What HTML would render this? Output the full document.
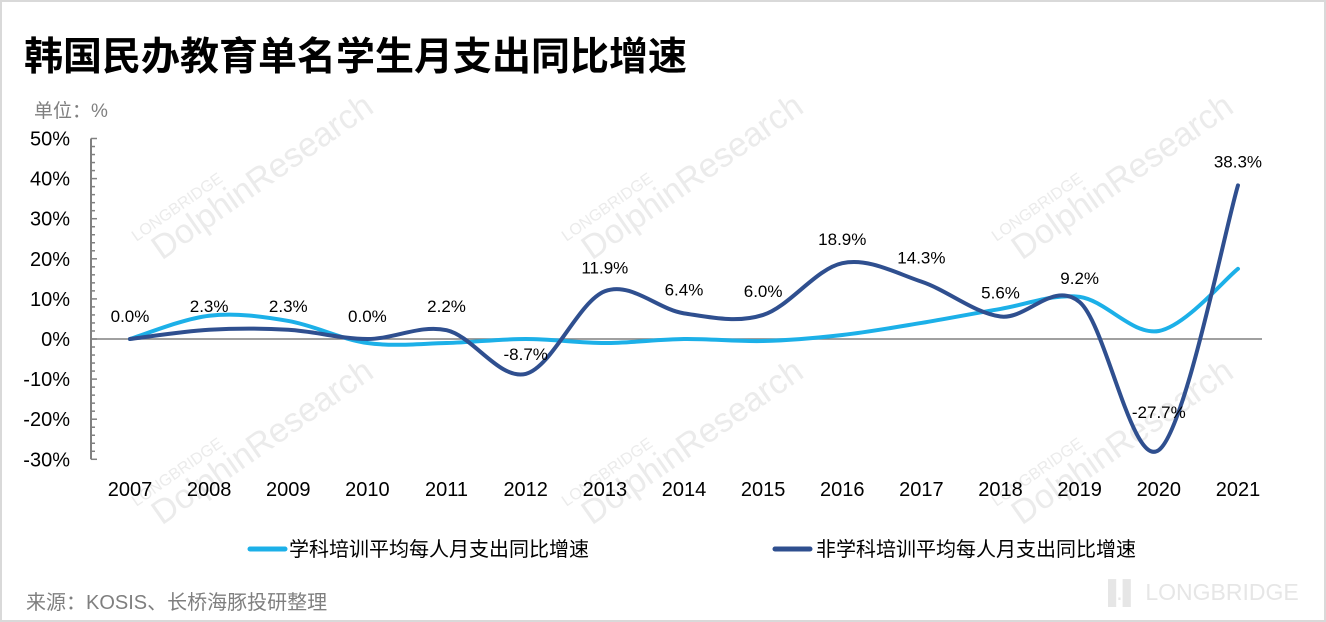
<!DOCTYPE html>
<html><head><meta charset="utf-8"><style>
body{margin:0;background:#fff}
#wrap{position:relative;width:1326px;height:622px;overflow:hidden;font-family:"Liberation Sans","Noto Sans CJK SC",sans-serif}
#border{position:absolute;left:0;top:0;width:1326px;height:622px;border:2px solid #d9d9d9;box-sizing:border-box}
svg{position:absolute;left:0;top:0}
</style></head><body>
<div id="wrap">
<div id="border"></div>
<svg id="c" width="1326" height="622">
<text x="24" y="70" font-size="39" font-weight="bold" fill="#000" font-family="Liberation Sans,Noto Sans CJK SC,sans-serif">韩国民办教育单名学生月支出同比增速</text>
<text x="34" y="117" font-size="19" fill="#7f7f7f" font-family="Liberation Sans,Noto Sans CJK SC,sans-serif">单位：%</text>
<g id="wm" fill="#ebebeb" font-family="Liberation Sans,sans-serif"></g>
<g id="axes"></g>
<g id="series"></g>
<g>
<line x1="250" y1="549" x2="285" y2="549" stroke="#1cb0e8" stroke-width="5" stroke-linecap="round"/>
<text x="289" y="556" font-size="20" fill="#000" font-family="Liberation Sans,Noto Sans CJK SC,sans-serif">学科培训平均每人月支出同比增速</text>
<line x1="775" y1="549" x2="810" y2="549" stroke="#2f4f8f" stroke-width="5" stroke-linecap="round"/>
<text x="816" y="556" font-size="20" fill="#000" font-family="Liberation Sans,Noto Sans CJK SC,sans-serif">非学科培训平均每人月支出同比增速</text>
</g>
<text x="26" y="609" font-size="20" fill="#7f7f7f" font-family="Liberation Sans,Noto Sans CJK SC,sans-serif">来源：KOSIS、长桥海豚投研整理</text>
<text x="1100" y="600" font-size="23" fill="#e6e6e6" font-family="Liberation Sans,sans-serif">▐.▌ LONGBRIDGE</text>
</svg>
</div>
<script>
const years=["2007","2008","2009","2010","2011","2012","2013","2014","2015","2016","2017","2018","2019","2020","2021"];
const subjectVals=[0,5.8,4.5,-1,-1,0,-1,0,-0.5,1,4,7.5,10.5,2,17.5];
const nonSubjectVals=[0,2.3,2.3,0,2.2,-8.7,11.9,6.4,6.0,18.9,14.3,5.6,9.2,-27.7,38.3];
const nonSubjectLabels=["0.0%","2.3%","2.3%","0.0%","2.2%","-8.7%","11.9%","6.4%","6.0%","18.9%","14.3%","5.6%","9.2%","-27.7%","38.3%"];
const yTicks=[50,40,30,20,10,0,-10,-20,-30];
const NS="http://www.w3.org/2000/svg";
const x=i=>130+i*79.14;
const y=v=>339-v*4.01;
function mk(t,a,p){const e=document.createElementNS(NS,t);for(const k in a)e.setAttribute(k,a[k]);p.appendChild(e);return e;}
const ax=document.getElementById('axes');

const yl=mk('line',{x1:91,y1:y(50),x2:91,y2:y(-30),stroke:'#808080','stroke-width':2},ax);

for(let v=-30;v<=50;v+=2){const t=mk('line',{x1:91,x2:v%10===0?97:95,y1:y(v),y2:y(v),stroke:'#808080','stroke-width':1.5},ax);
}
yTicks.forEach(v=>{const t=mk('text',{x:70,y:y(v)+7,'font-size':20,'text-anchor':'end',fill:'#000'},ax);t.textContent=v+'%';
});
const zl=mk('line',{x1:91,x2:1262,y1:y(0),y2:y(0),stroke:'#808080','stroke-width':1.5},ax);

years.forEach((yr,i)=>{const t=mk('text',{x:x(i),y:496,'font-size':20,'text-anchor':'middle',fill:'#000'},ax);t.textContent=yr;
});
function path(vals){const p=vals.map((v,i)=>[x(i),y(v)]);let d='M'+p[0][0]+','+p[0][1];
for(let i=0;i<p.length-1;i++){const p0=p[Math.max(0,i-1)],p1=p[i],p2=p[i+1],p3=p[Math.min(p.length-1,i+2)];const k=1/6;
d+=` C${p1[0]+(p2[0]-p0[0])*k},${p1[1]+(p2[1]-p0[1])*k} ${p2[0]-(p3[0]-p1[0])*k},${p2[1]-(p3[1]-p1[1])*k} ${p2[0]},${p2[1]}`;}return d;}
const sg=document.getElementById('series');

const l1=mk('path',{d:path(subjectVals),fill:'none',stroke:'#1cb0e8','stroke-width':4,'stroke-linecap':'round'},sg);

const l2=mk('path',{d:path(nonSubjectVals),fill:'none',stroke:'#2f4f8f','stroke-width':4,'stroke-linecap':'round'},sg);

nonSubjectVals.forEach((v,i)=>{let ly=v>=0?y(v)-24:y(v)+12;if(i===0||i===3)ly=y(v)-23;if(i===5)ly=y(v)-20;if(i===13)ly=y(v)-38;
const t=mk('text',{x:x(i),y:ly+6,'font-size':17,'text-anchor':'middle',fill:'#000'},sg);t.textContent=nonSubjectLabels[i];
});
const wm=document.getElementById('wm');
[[170,255],[600,255],[1030,255],[170,520],[600,520],[1030,520]].forEach(([cx,cy])=>{
const g=mk('g',{transform:`translate(${cx},${cy}) rotate(-35)`},wm);
const a=mk('text',{x:-20,y:-30,'font-size':16},g);a.textContent='LONGBRIDGE';
const b=mk('text',{x:-10,y:0,'font-size':34},g);b.textContent='DolphinResearch';
});
</script>
</body></html>
